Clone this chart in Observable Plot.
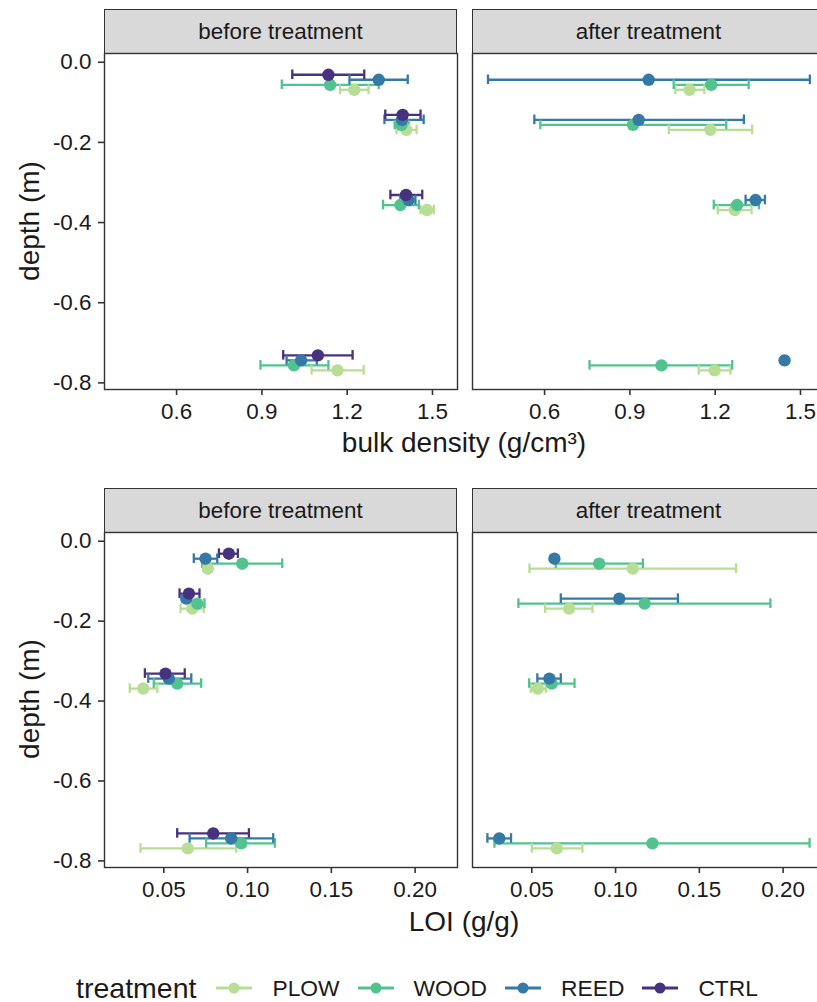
<!DOCTYPE html>
<html><head><meta charset="utf-8">
<script src="https://cdn.jsdelivr.net/npm/d3@7"></script>
<script src="https://cdn.jsdelivr.net/npm/@observablehq/plot@0.6"></script>
<style>
html,body{margin:0;padding:0;background:#fff;overflow:hidden;}
#root{position:relative;width:817px;height:1002px;overflow:hidden;font-family:"Liberation Sans",Arial,sans-serif;color:#1a1a1a;}
.strip{position:absolute;background:#d9d9d9;border:1.4px solid #333;box-sizing:border-box;font-size:22.4px;display:flex;align-items:center;justify-content:center;}
.title{position:absolute;font-size:28px;white-space:nowrap;}
.legend{position:absolute;left:0;width:834px;display:flex;justify-content:center;align-items:center;font-size:22.8px;}
</style></head><body><div id="root"></div>
<script>
// ---- data ----
const treatments = ["PLOW", "WOOD", "REED", "CTRL"];
const treatmentColors = ["#b8de96", "#52c28f", "#3579a7", "#46327e"];
const phases = ["before treatment", "after treatment"];
const depths = [-0.05, -0.15, -0.35, -0.75];
const depthTicks = [0, -0.2, -0.4, -0.6, -0.8];
const bdTicks = [0.6, 0.9, 1.2, 1.5];
const loiTicks = [0.05, 0.10, 0.15, 0.20];

// rows: PLOW, WOOD, REED, CTRL ; columns: depths
const bdBeforeMean = [[1.225, 1.408, 1.481, 1.166], [1.140, 1.391, 1.387, 1.013], [1.311, 1.393, 1.416, 1.038], [1.134, 1.395, 1.407, 1.097]];
const bdBeforeLo   = [[1.175, 1.373, 1.458, 1.075], [0.970, 1.367, 1.326, 0.895], [1.208, 1.331, 1.387, 0.987], [1.007, 1.334, 1.352, 0.975]];
const bdBeforeHi   = [[1.275, 1.444, 1.505, 1.258], [1.311, 1.416, 1.452, 1.134], [1.413, 1.469, 1.440, 1.093], [1.260, 1.458, 1.464, 1.219]];

const bdAfterMean = [[1.110, 1.183, 1.269, 1.198], [1.186, 0.911, 1.277, 1.011], [0.966, 0.931, 1.342, 1.444], null];
const bdAfterLo   = [[1.060, 1.037, 1.209, 1.142], [1.054, 0.585, 1.195, 0.758], [0.401, 0.564, 1.307, 1.436], null];
const bdAfterHi   = [[1.162, 1.330, 1.328, 1.254], [1.318, 1.239, 1.354, 1.260], [1.533, 1.301, 1.375, 1.452], null];

const loiBeforeMean = [[0.0763, 0.0670, 0.0377, 0.0643], [0.0968, 0.0700, 0.0580, 0.0962], [0.0749, 0.0634, 0.0530, 0.0902], [0.0888, 0.0650, 0.0510, 0.0795]];
const loiBeforeLo   = [[0.0748, 0.0600, 0.0297, 0.0361], [0.0729, 0.0655, 0.0440, 0.0753], [0.0679, 0.0612, 0.0407, 0.0654], [0.0829, 0.0594, 0.0387, 0.0580]];
const loiBeforeHi   = [[0.0778, 0.0739, 0.0461, 0.0932], [0.1207, 0.0743, 0.0723, 0.1163], [0.0819, 0.0658, 0.0664, 0.1153], [0.0942, 0.0713, 0.0625, 0.1008]];

const loiAfterMean = [[0.1103, 0.0723, 0.0536, 0.0649], [0.0902, 0.1173, 0.0619, 0.1220], [0.0635, 0.1022, 0.0605, 0.0306], null];
const loiAfterLo   = [[0.0486, 0.0579, 0.0494, 0.0500], [0.0643, 0.0420, 0.0484, 0.0277], [0.0628, 0.0673, 0.0533, 0.0235], null];
const loiAfterHi   = [[0.1719, 0.0862, 0.0584, 0.0802], [0.1163, 0.1924, 0.0755, 0.2158], [0.0642, 0.1372, 0.0673, 0.0376], null];

// ---- layout ----
const root = document.getElementById("root");
const FONT = '"Liberation Sans", Arial, sans-serif';
const yDomain = [-0.8165, 0.0218];
const bdDomain = [0.3465, 1.588];
const loiDomain = [0.0146, 0.2253];
const PW = 353;

function rowsFor(mean, lo, hi) {
  const rows = [];
  treatments.forEach((t, i) => {
    if (!mean[i]) return;
    depths.forEach((d, j) => {
      rows.push({t, yd: d + (i - 1.5) * 0.0125, m: mean[i][j], lo: lo[i][j], hi: hi[i][j]});
    });
  });
  return rows;
}

function panel(mean, lo, hi, xDomain, xTicks, digits, showY, PH) {
  const rows = rowsFor(mean, lo, hi);
  const ml = showY ? 104 : 1;
  const marks = [
    Plot.frame({stroke: "#333", strokeWidth: 1.4}),
    Plot.ruleY(rows, {y: "yd", x1: "lo", x2: "hi", stroke: "t", strokeWidth: 2.3}),
    Plot.ruleX(rows, {x: "lo", y1: "yd", y2: "yd", insetTop: -4.8, insetBottom: -4.8, stroke: "t", strokeWidth: 2.3}),
    Plot.ruleX(rows, {x: "hi", y1: "yd", y2: "yd", insetTop: -4.8, insetBottom: -4.8, stroke: "t", strokeWidth: 2.3}),
    Plot.dot(rows, {x: "m", y: "yd", fill: "t", r: 6.2, stroke: "none"}),
    Plot.axisX(xTicks, {tickFormat: d => d.toFixed(digits), tickSize: 6, tickPadding: 8, stroke: "#333", strokeWidth: 1.6, fill: "#1a1a1a", fontSize: 22.4, label: null})
  ];
  if (showY) marks.push(Plot.axisY(depthTicks, {tickFormat: d => d.toFixed(1), tickSize: 6, tickPadding: 7, stroke: "#333", strokeWidth: 1.6, fill: "#1a1a1a", fontSize: 22.4, label: null}));
  return Plot.plot({
    width: ml + PW + 1, height: 1 + PH + 50,
    marginLeft: ml, marginRight: 1, marginTop: 1, marginBottom: 50,
    x: {domain: xDomain, label: null},
    y: {domain: yDomain, label: null, axis: null},
    color: {domain: treatments, range: treatmentColors},
    style: {fontFamily: FONT, fontSize: "22.4px", color: "#1a1a1a", background: "transparent", overflow: "visible"},
    marks
  });
}

function place(el, left, top) {
  el.style.position = "absolute";
  el.style.left = left + "px";
  el.style.top = top + "px";
  root.appendChild(el);
  return el;
}
function strip(text, left, top) {
  const d = document.createElement("div");
  d.className = "strip";
  d.textContent = text;
  d.style.width = PW + "px";
  d.style.height = "45px";
  place(d, left, top);
}
function title(text, cx, cy, rotate) {
  const d = document.createElement("div");
  d.className = "title";
  d.textContent = text;
  place(d, cx, cy);
  d.style.transform = "translate(-50%,-50%)" + (rotate ? " rotate(-90deg)" : "");
}

// top row: bulk density
strip(phases[0], 104, 9);
strip(phases[1], 472, 9);
place(panel(bdBeforeMean, bdBeforeLo, bdBeforeHi, bdDomain, bdTicks, 1, true, 336), 0, 52);
place(panel(bdAfterMean, bdAfterLo, bdAfterHi, bdDomain, bdTicks, 1, false, 336), 471, 52);
title("bulk density (g/cm³)", 464, 443, false);
title("depth (m)", 30, 221, true);

// bottom row: LOI
strip(phases[0], 104, 488);
strip(phases[1], 472, 488);
place(panel(loiBeforeMean, loiBeforeLo, loiBeforeHi, loiDomain, loiTicks, 2, true, 335), 0, 531);
place(panel(loiAfterMean, loiAfterLo, loiAfterHi, loiDomain, loiTicks, 2, false, 335), 471, 531);
title("LOI (g/g)", 464, 922, false);
title("depth (m)", 30, 699, true);

// legend
const leg = document.createElement("div");
leg.className = "legend";
leg.style.top = "970px";
leg.style.height = "36px";
const lt = document.createElement("span");
lt.textContent = "treatment";
lt.style.fontSize = "28.5px";
lt.style.marginRight = "20px";
leg.appendChild(lt);
treatments.forEach((t, i) => {
  const ns = "http://www.w3.org/2000/svg";
  const svg = document.createElementNS(ns, "svg");
  svg.setAttribute("width", 36); svg.setAttribute("height", 20);
  svg.style.marginRight = "20px";
  const line = document.createElementNS(ns, "line");
  line.setAttribute("x1", 0); line.setAttribute("x2", 36); line.setAttribute("y1", 10); line.setAttribute("y2", 10);
  line.setAttribute("stroke", treatmentColors[i]); line.setAttribute("stroke-width", 2.8);
  const c = document.createElementNS(ns, "circle");
  c.setAttribute("cx", 18); c.setAttribute("cy", 10); c.setAttribute("r", 5.5); c.setAttribute("fill", treatmentColors[i]);
  svg.appendChild(line); svg.appendChild(c);
  leg.appendChild(svg);
  const s = document.createElement("span");
  s.textContent = t;
  s.style.marginRight = i < treatments.length - 1 ? "18px" : "0";
  leg.appendChild(s);
});
root.appendChild(leg);
</script>
</body></html>
